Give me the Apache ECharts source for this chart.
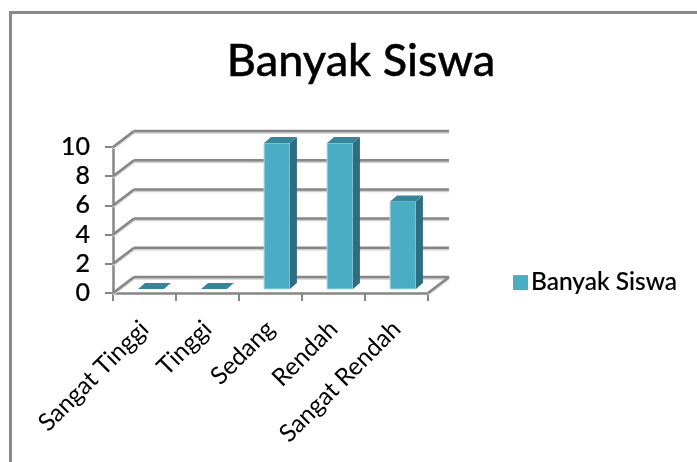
<!DOCTYPE html>
<html>
<head>
<meta charset="utf-8">
<style>
html, body { margin: 0; padding: 0; background: #fff; }
#main { width: 697px; height: 462px; }
</style>
<script src="https://cdn.jsdelivr.net/npm/echarts@6/dist/echarts.min.js"></script>
</head>
<body>
<div id="main"></div>
<script>
const categories = ['Sangat Tinggi', 'Tinggi', 'Sedang', 'Rendah', 'Sangat Rendah']
const values = [0, 0, 10, 10, 6]
const yTicks = [0, 2, 4, 6, 8, 10]
const seriesName = 'Banyak Siswa'

const fontName = 'Lato, "Open Sans", sans-serif'
const gray = '#868686'

// kedalaman dinding belakang dan batang (pseudo 3d)
const wallDx = 21
const wallDy = -16
const barDx = 7
const barDy = -6

function renderWall(params, api) {
    const v = api.value(0)
    const rect = params.coordSys
    const p = api.coord([0, v])
    const left = rect.x
    const right = rect.x + rect.width
    const lineStyle = { stroke: gray, lineWidth: 2.5, fill: null, shadowColor: '#d0d0d0', shadowOffsetY: 1.5 }
    const children = [
        { type: 'line', shape: { x1: left, y1: p[1], x2: left + wallDx, y2: p[1] + wallDy }, style: lineStyle },
        { type: 'line', shape: { x1: left + wallDx, y1: p[1] + wallDy, x2: right + wallDx, y2: p[1] + wallDy }, style: lineStyle }
    ]
    if (v === 0) {
        children.push({ type: 'line', shape: { x1: right, y1: p[1], x2: right + wallDx, y2: p[1] + wallDy }, style: lineStyle })
    }
    return { type: 'group', children: children }
}

function renderBar(params, api) {
    const c = api.coord([api.value(0), api.value(1)])
    const base = api.coord([api.value(0), 0])
    const size = api.size([1, 0])[0]
    const w = size * 0.41
    const x0 = c[0] - w / 2 + 6.5
    const x1 = x0 + w
    const yTop = c[1] - 4
    const yBot = base[1] - 4
    const children = []
    if (yBot - yTop > 0) {
        children.push({
            type: 'rect',
            shape: { x: x0, y: yTop, width: w, height: yBot - yTop },
            style: { fill: '#4BACC6', stroke: '#A9D8E4', lineWidth: 1 }
        })
        children.push({
            type: 'polygon',
            shape: { points: [[x1, yTop], [x1 + barDx, yTop + barDy], [x1 + barDx, yBot + barDy], [x1, yBot]] },
            style: { fill: '#2F6D80' }
        })
    }
    children.push({
        type: 'polygon',
        shape: { points: [[x0, yTop], [x0 + barDx, yTop + barDy], [x1 + barDx, yTop + barDy], [x1, yTop]] },
        style: { fill: '#388599' }
    })
    return { type: 'group', children: children }
}

const chart = echarts.init(document.getElementById('main'))
chart.setOption({
    animation: false,
    graphic: [{
        type: 'rect',
        silent: true,
        z: -1,
        shape: { x: 10.5, y: 12.5, width: 800, height: 600 },
        style: { fill: '#fff', stroke: '#8A8A8A', lineWidth: 3 }
    }],
    title: {
        text: seriesName,
        left: 356,
        top: 34,
        textAlign: 'center',
        textStyle: { fontFamily: fontName, fontSize: 45, fontWeight: 500, color: '#000', textBorderColor: '#000', textBorderWidth: 0.4 }
    },
    legend: {
        data: [seriesName],
        left: 508,
        top: 265,
        icon: 'rect',
        itemWidth: 15,
        itemHeight: 15,
        itemGap: 8,
        textStyle: { fontFamily: fontName, fontSize: 24.5, fontWeight: 500, color: '#000', textBorderColor: '#000', textBorderWidth: 0.15, padding: [0, 0, 0, -2] }
    },
    grid: { left: 113, right: 269, top: 147, bottom: 169 },
    xAxis: {
        type: 'category',
        data: categories,
        axisLine: { lineStyle: { color: gray, width: 2.5 } },
        axisTick: { show: true, length: 8, alignWithLabel: false, lineStyle: { color: gray, width: 2 } },
        axisLabel: {
            interval: 0,
            rotate: 45,
            margin: 32,
            fontFamily: fontName,
            fontSize: 24.5,
            color: '#000'
        }
    },
    yAxis: {
        type: 'value',
        min: 0,
        max: 10,
        interval: 2,
        axisLine: { show: true, lineStyle: { color: gray, width: 2.5 } },
        axisTick: { show: true, length: 8, lineStyle: { color: gray, width: 2 } },
        axisLabel: {
            margin: 23,
            formatter: function (v) { return yTicks.indexOf(v) >= 0 ? String(v) : '' },
            fontFamily: fontName,
            fontSize: 25,
            fontWeight: 500,
            color: '#000',
            textBorderColor: '#000',
            textBorderWidth: 0.2
        },
        splitLine: { show: false }
    },
    series: [
        {
            type: 'custom',
            name: 'wall',
            silent: true,
            clip: false,
            z: 1,
            renderItem: renderWall,
            data: yTicks.map(function (v) { return [v] }),
            encode: { y: 0 }
        },
        {
            type: 'custom',
            name: seriesName,
            clip: false,
            z: 2,
            itemStyle: { color: '#4BACC6' },
            renderItem: renderBar,
            data: values.map(function (v, i) { return [i, v] }),
            encode: { x: 0, y: 1 }
        }
    ]
})
window.onresize = function () {
    chart.resize()
}
</script>
</body>
</html>
